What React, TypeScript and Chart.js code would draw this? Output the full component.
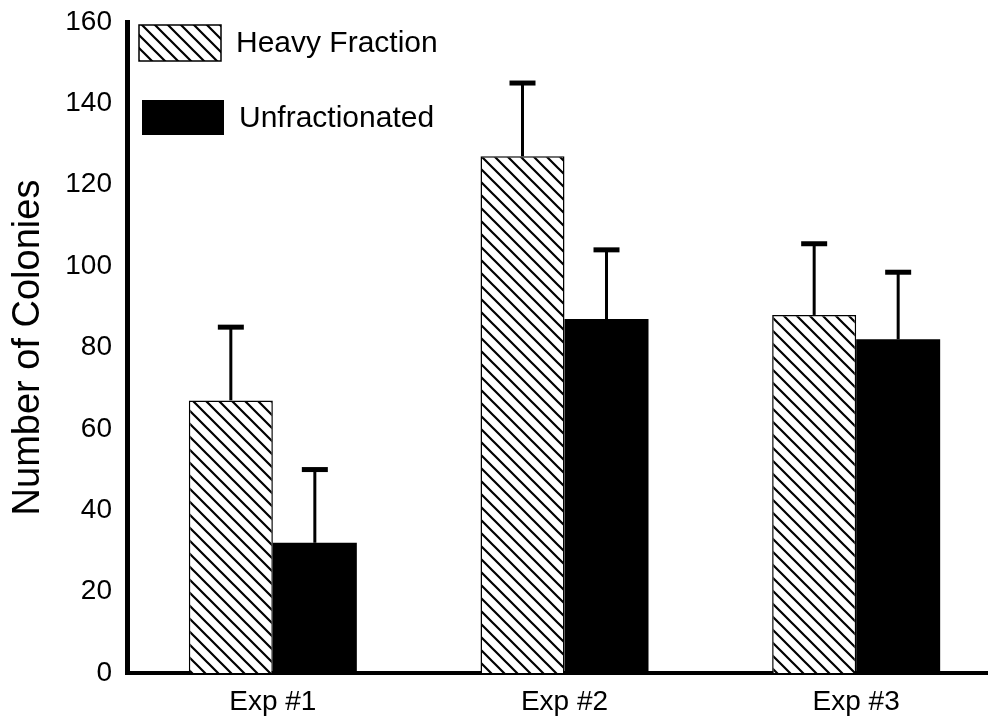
import React, { useEffect, useRef } from "react";
import { Chart, registerables } from "chart.js";

Chart.register(...registerables);

const categories = ["Exp #1", "Exp #2", "Exp #3"];
const seriesNames = ["Heavy Fraction", "Unfractionated"];
const heavyValues = [67, 127, 88];
const heavyErrors = [18, 18, 17.5];
const unfracValues = [32, 87, 82];
const unfracErrors = [18, 17, 16.5];
const yTicks = [0, 20, 40, 60, 80, 100, 120, 140, 160];
const yTitle = "Number of Colonies";

const FONT = '"Liberation Sans", Arial, Helvetica, sans-serif';

function makeHatch(): CanvasPattern | string {
  const s = 13;
  const c = document.createElement("canvas");
  c.width = s;
  c.height = s;
  const g = c.getContext("2d");
  if (!g) return "#fff";
  g.fillStyle = "#fff";
  g.fillRect(0, 0, s, s);
  g.strokeStyle = "#000";
  g.lineWidth = 2.2;
  g.beginPath();
  g.moveTo(-2, -2);
  g.lineTo(s + 2, s + 2);
  g.moveTo(-2, s - 2);
  g.lineTo(2, s + 2);
  g.moveTo(s - 2, -2);
  g.lineTo(s + 2, 2);
  g.stroke();
  const p = g.createPattern(c, "repeat");
  return p || "#fff";
}

const errorBarPlugin = {
  id: "errorBars",
  afterDatasetsDraw(chart: any) {
    const ctx = chart.ctx;
    const yScale = chart.scales.y;
    chart.data.datasets.forEach((ds: any, di: number) => {
      const meta = chart.getDatasetMeta(di);
      const errs: number[] = ds.errors || [];
      meta.data.forEach((bar: any, i: number) => {
        const v = ds.data[i];
        const e = errs[i];
        if (e == null) return;
        const yTop = yScale.getPixelForValue(v + e);
        const yBase = yScale.getPixelForValue(v);
        ctx.save();
        ctx.strokeStyle = "#000";
        ctx.lineWidth = 3;
        ctx.beginPath();
        ctx.moveTo(bar.x, yBase);
        ctx.lineTo(bar.x, yTop);
        ctx.stroke();
        ctx.lineWidth = 5;
        ctx.beginPath();
        ctx.moveTo(bar.x - 13, yTop);
        ctx.lineTo(bar.x + 13, yTop);
        ctx.stroke();
        ctx.restore();
      });
    });
  },
};

const legendPlugin = {
  id: "boxLegend",
  afterDraw(chart: any) {
    const ctx = chart.ctx;
    const area = chart.chartArea;
    const rows = [
      { y: area.top + 3, h: 36 },
      { y: area.top + 78, h: 35 },
    ];
    chart.data.datasets.forEach((ds: any, i: number) => {
      const r = rows[i];
      if (!r) return;
      const x = area.left + 12 + i * 3;
      ctx.save();
      ctx.fillStyle = ds.backgroundColor;
      ctx.fillRect(x, r.y, 82, r.h);
      if (ds.borderWidth) {
        ctx.strokeStyle = "#000";
        ctx.lineWidth = 1.5;
        ctx.strokeRect(x, r.y, 82, r.h);
      }
      ctx.fillStyle = "#000";
      ctx.font = `30px ${FONT}`;
      ctx.textBaseline = "middle";
      ctx.textAlign = "left";
      ctx.fillText(ds.label, x + 97, r.y + r.h / 2 + 1);
      ctx.restore();
    });
  },
};

export default function App() {
  const ref = useRef<HTMLCanvasElement>(null);

  useEffect(() => {
    if (!ref.current) return;
    const hatch = makeHatch();
    const chart = new Chart(ref.current, {
      type: "bar",
      data: {
        labels: categories,
        datasets: [
          {
            label: seriesNames[0],
            data: heavyValues,
            errors: heavyErrors,
            backgroundColor: hatch as any,
            borderColor: "#000",
            borderWidth: 1.5,
            categoryPercentage: 0.576,
            barPercentage: 1,
          } as any,
          {
            label: seriesNames[1],
            data: unfracValues,
            errors: unfracErrors,
            backgroundColor: "#000",
            borderColor: "#000",
            borderWidth: 0,
            categoryPercentage: 0.576,
            barPercentage: 1,
          } as any,
        ],
      },
      options: {
        animation: false,
        responsive: false,
        maintainAspectRatio: false,
        layout: { padding: { top: 22, left: 0, right: 0, bottom: 0 } },
        plugins: {
          legend: { display: false },
          tooltip: { enabled: false },
        },
        scales: {
          x: {
            grid: { display: false, drawTicks: false },
            border: { display: true, color: "#000", width: 4 },
            ticks: {
              color: "#000",
              font: { family: FONT, size: 28 },
              padding: 12,
            },
            afterFit: (s: any) => {
              s.height = 55;
              s.paddingLeft = 0;
              s.paddingRight = 0;
            },
          },
          y: {
            min: 0,
            max: 160,
            afterBuildTicks: (s: any) => {
              s.ticks = yTicks.map((v) => ({ value: v }));
            },
            grid: { display: false, drawTicks: false },
            border: { display: true, color: "#000", width: 5 },
            ticks: {
              color: "#000",
              font: { family: FONT, size: 28 },
              padding: 15,
            },
            title: {
              display: true,
              text: yTitle,
              color: "#000",
              font: { family: FONT, size: 38 },
              padding: { top: 6, bottom: 0 },
            },
            afterFit: (s: any) => {
              s.width = 127;
              s.paddingTop = 0;
              s.paddingBottom = 0;
            },
          },
        },
      },
      plugins: [errorBarPlugin, legendPlugin],
    } as any);
    return () => chart.destroy();
  }, []);

  return (
    <div
      style={{
        position: "fixed",
        left: 0,
        top: 0,
        width: 988,
        height: 728,
        overflow: "hidden",
        background: "#fff",
      }}
    >
      <canvas ref={ref} width={1002} height={728} style={{ width: 1002, height: 728 }} />
    </div>
  );
}
